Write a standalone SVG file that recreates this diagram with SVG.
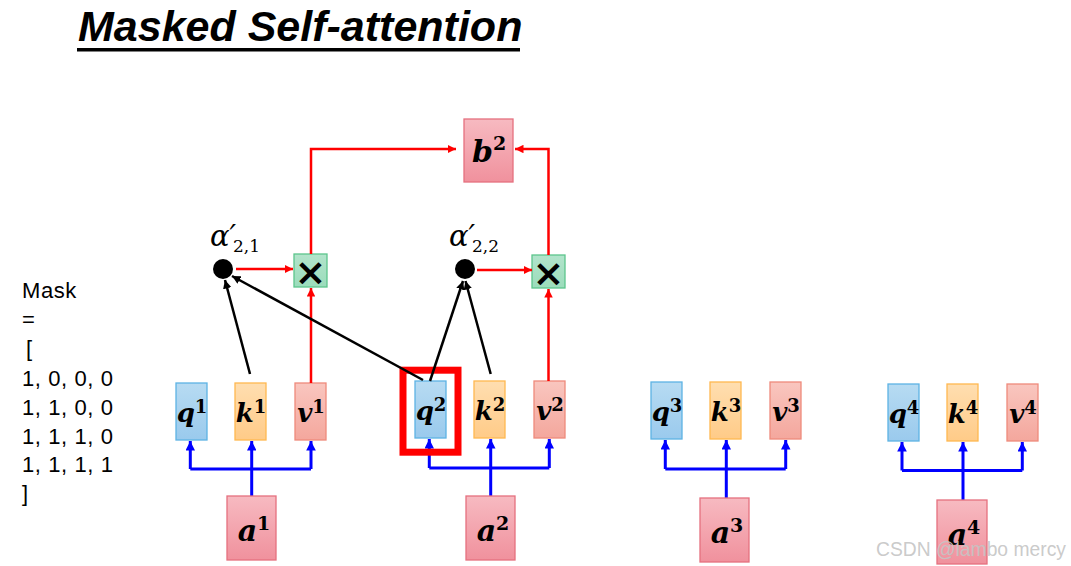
<svg xmlns="http://www.w3.org/2000/svg" width="1071" height="566" viewBox="0 0 1071 566">
<style>
.title{font-family:"Liberation Sans",Arial,sans-serif;font-weight:bold;font-style:italic;font-size:43px;fill:#000}
.mask{font-family:"Liberation Sans",Arial,sans-serif;font-size:22px;letter-spacing:0.6px;fill:#000}
.lbl{font-family:"DejaVu Serif","Liberation Serif",serif;font-weight:bold;font-style:italic;font-size:26px;fill:#000;text-anchor:middle}
.big{font-size:30px}
.sup{font-style:normal;font-size:18px}
.big .sup{font-size:19px}
.alpha{font-family:"DejaVu Serif","Liberation Serif",serif;font-style:italic;font-size:29px;fill:#000}
.sub{font-family:"DejaVu Serif","Liberation Serif",serif;font-size:17px;fill:#000}
.times{font-family:"DejaVu Sans",sans-serif;font-weight:bold;font-size:38px;fill:#000;text-anchor:middle}
.q{fill:url(#gq);stroke:#5db3e4;stroke-width:1.3}
.k{fill:url(#gk);stroke:#ffb850;stroke-width:1.3}
.v{fill:url(#gv);stroke:#ef8a7c;stroke-width:1.3}
.a{fill:url(#ga);stroke:#e5707f;stroke-width:1.3}
.x{fill:url(#gx);stroke:#5cc58c;stroke-width:1.3}
.blue{stroke:#0000ff;stroke-width:3;fill:none}
.blueA{stroke:#0000ff;stroke-width:3;fill:none;marker-end:url(#mb)}
.red{stroke:#ff0000;stroke-width:2.5;fill:none;marker-end:url(#mr)}
.blk{stroke:#000;stroke-width:2.5;fill:none;marker-end:url(#mk)}
.wm{font-family:"Liberation Sans",Arial,sans-serif;font-size:19.3px;fill:#c4c4c4;fill-opacity:0.9}
</style>
<defs>
<linearGradient id="gq" x1="0" y1="0" x2="0" y2="1"><stop offset="0" stop-color="#b7dbf2"/><stop offset="1" stop-color="#9acaed"/></linearGradient>
<linearGradient id="gk" x1="0" y1="0" x2="0" y2="1"><stop offset="0" stop-color="#ffdeb0"/><stop offset="1" stop-color="#ffcb88"/></linearGradient>
<linearGradient id="gv" x1="0" y1="0" x2="0" y2="1"><stop offset="0" stop-color="#f9c6bf"/><stop offset="1" stop-color="#f4a79d"/></linearGradient>
<linearGradient id="ga" x1="0" y1="0" x2="0" y2="1"><stop offset="0" stop-color="#f7bac1"/><stop offset="1" stop-color="#f0919d"/></linearGradient>
<linearGradient id="gx" x1="0" y1="0" x2="0" y2="1"><stop offset="0" stop-color="#b2e4cb"/><stop offset="1" stop-color="#9bdcbb"/></linearGradient>
<marker id="mb" viewBox="0 0 10 10" refX="10" refY="5" markerWidth="3.2" markerHeight="3.2" orient="auto" markerUnits="strokeWidth"><path d="M0,0 L10,5 L0,10 z" fill="#0000ff"/></marker>
<marker id="mr" viewBox="0 0 10 10" refX="10" refY="5" markerWidth="3.4" markerHeight="3.4" orient="auto" markerUnits="strokeWidth"><path d="M0,0 L10,5 L0,10 z" fill="#ff0000"/></marker>
<marker id="mk" viewBox="0 0 10 10" refX="10" refY="5" markerWidth="3.4" markerHeight="3.4" orient="auto" markerUnits="strokeWidth"><path d="M0,0 L10,5 L0,10 z" fill="#000"/></marker>
</defs>
<rect width="1071" height="566" fill="#fff"/>

<g id="title">
<text class="title" x="78" y="41">Masked Self-attention</text>
<rect x="77" y="48" width="443" height="3.5" fill="#000"/>
</g>

<g id="mask-text">
<text class="mask" x="22" y="298">Mask</text>
<text class="mask" x="22" y="327">=</text>
<text class="mask" x="26" y="356">[</text>
<text class="mask" x="22" y="386">1, 0, 0, 0</text>
<text class="mask" x="22" y="415">1, 1, 0, 0</text>
<text class="mask" x="22" y="444">1, 1, 1, 0</text>
<text class="mask" x="22" y="472">1, 1, 1, 1</text>
<text class="mask" x="22" y="501">]</text>
</g>

<g id="connectors-input">
<line class="blue" x1="190.3" y1="469" x2="311" y2="469"/>
<line class="blueA" x1="190.3" y1="469" x2="190.3" y2="441"/>
<line class="blueA" x1="251.7" y1="496" x2="251.7" y2="441"/>
<line class="blueA" x1="311" y1="469" x2="311" y2="441"/>
<line class="blue" x1="429.3" y1="468" x2="549.3" y2="468"/>
<line class="blueA" x1="429.3" y1="468" x2="429.3" y2="439"/>
<line class="blueA" x1="490.7" y1="496" x2="490.7" y2="439"/>
<line class="blueA" x1="549.3" y1="468" x2="549.3" y2="439"/>
<line class="blue" x1="665.3" y1="469" x2="785.7" y2="469"/>
<line class="blueA" x1="665.3" y1="469" x2="665.3" y2="440"/>
<line class="blueA" x1="726.3" y1="498" x2="726.3" y2="440"/>
<line class="blueA" x1="785.7" y1="469" x2="785.7" y2="440"/>
<line class="blue" x1="902" y1="470.5" x2="1022.3" y2="470.5"/>
<line class="blueA" x1="902" y1="470.5" x2="902" y2="442"/>
<line class="blueA" x1="963" y1="500" x2="963" y2="442"/>
<line class="blueA" x1="1022.3" y1="470.5" x2="1022.3" y2="442"/>
</g>

<g id="q1"><rect class="q" x="176" y="383" width="31" height="57"/><text class="lbl" x="192" y="422">q<tspan class="sup" dy="-9">1</tspan></text></g>
<g id="k1"><rect class="k" x="235" y="383" width="31" height="57"/><text class="lbl" x="251" y="422">k<tspan class="sup" dy="-9">1</tspan></text></g>
<g id="v1"><rect class="v" x="295" y="383" width="31" height="57"/><text class="lbl" x="311" y="422">v<tspan class="sup" dy="-9">1</tspan></text></g>
<g id="a1"><rect class="a" x="227" y="496" width="49" height="64"/><text class="lbl big" x="254" y="541">a<tspan class="sup" dy="-11">1</tspan></text></g>

<g id="q2"><rect class="q" x="415" y="381" width="31" height="57"/><text class="lbl" x="431" y="420">q<tspan class="sup" dy="-9">2</tspan></text></g>
<g id="k2"><rect class="k" x="474" y="381" width="31" height="57"/><text class="lbl" x="490" y="420">k<tspan class="sup" dy="-9">2</tspan></text></g>
<g id="v2"><rect class="v" x="534" y="381" width="31" height="57"/><text class="lbl" x="550" y="420">v<tspan class="sup" dy="-9">2</tspan></text></g>
<g id="a2"><rect class="a" x="466" y="496" width="49" height="64"/><text class="lbl big" x="493" y="541">a<tspan class="sup" dy="-11">2</tspan></text></g>

<g id="q3"><rect class="q" x="651" y="382" width="31" height="57"/><text class="lbl" x="667" y="421">q<tspan class="sup" dy="-9">3</tspan></text></g>
<g id="k3"><rect class="k" x="710" y="382" width="31" height="57"/><text class="lbl" x="726" y="421">k<tspan class="sup" dy="-9">3</tspan></text></g>
<g id="v3"><rect class="v" x="770" y="382" width="31" height="57"/><text class="lbl" x="786" y="421">v<tspan class="sup" dy="-9">3</tspan></text></g>
<g id="a3"><rect class="a" x="700" y="498" width="49" height="64"/><text class="lbl big" x="727" y="543">a<tspan class="sup" dy="-11">3</tspan></text></g>

<g id="q4"><rect class="q" x="888" y="384" width="31" height="57"/><text class="lbl" x="904" y="423">q<tspan class="sup" dy="-9">4</tspan></text></g>
<g id="k4"><rect class="k" x="947" y="384" width="31" height="57"/><text class="lbl" x="963" y="423">k<tspan class="sup" dy="-9">4</tspan></text></g>
<g id="v4"><rect class="v" x="1007" y="384" width="31" height="57"/><text class="lbl" x="1023" y="423">v<tspan class="sup" dy="-9">4</tspan></text></g>
<g id="a4"><rect class="a" x="937" y="500" width="50" height="64"/><text class="lbl big" x="964" y="545">a<tspan class="sup" dy="-11">4</tspan></text></g>

<g id="b2"><rect class="a" x="464" y="119" width="49" height="63"/><text class="lbl big" x="489" y="162">b<tspan class="sup" dy="-12">2</tspan></text></g>

<g id="mul1"><rect class="x" x="294" y="254" width="33" height="33"/><text class="times" x="310.5" y="285">×</text></g>
<g id="mul2"><rect class="x" x="532" y="255" width="33" height="33"/><text class="times" x="548.5" y="286">×</text></g>

<g id="alpha21"><circle cx="223" cy="269" r="10" fill="#000"/><text class="alpha" x="210" y="246">α′</text><text class="sub" x="233" y="252">2,1</text></g>
<g id="alpha22"><circle cx="465" cy="269" r="10" fill="#000"/><text class="alpha" x="449" y="246">α′</text><text class="sub" x="472" y="252">2,2</text></g>

<g id="highlight"><rect x="403" y="370.2" width="55" height="82" fill="none" stroke="#ff0000" stroke-width="7"/></g>

<g id="connectors-attention">
<line class="red" x1="236" y1="269" x2="293" y2="269"/>
<line class="red" x1="311" y1="383" x2="311" y2="288"/>
<polyline class="red" points="311,254 311,149 456,149"/>
<line class="red" x1="477" y1="270" x2="532" y2="270"/>
<line class="red" x1="548.5" y1="381" x2="548.5" y2="289"/>
<polyline class="red" points="548.5,255 548.5,149 515,149"/>
<line class="blk" x1="250" y1="374" x2="225" y2="280"/>
<line class="blk" x1="423" y1="380" x2="232" y2="276"/>
<line class="blk" x1="430" y1="381" x2="463" y2="281"/>
<line class="blk" x1="490.7" y1="374" x2="465.5" y2="281"/>
</g>

<text class="wm" x="876" y="556">CSDN @lambo mercy</text>
</svg>
